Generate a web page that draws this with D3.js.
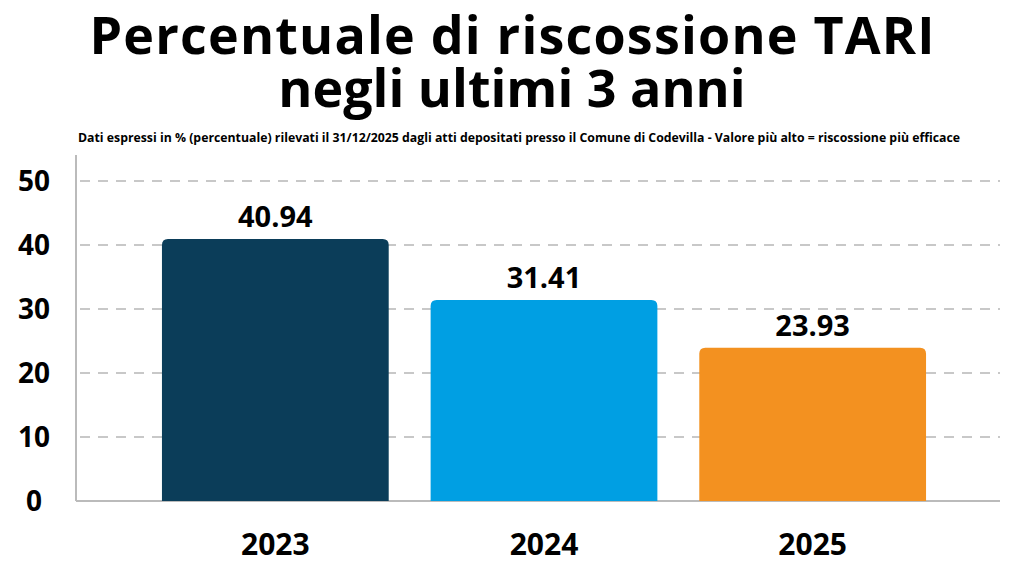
<!DOCTYPE html><html><head><meta charset="utf-8">
<script src="https://cdn.jsdelivr.net/npm/d3@7/dist/d3.min.js"></script>
<style>body{margin:0;background:#fff}</style></head><body>
<script>
const categories=["2023","2024","2025"];
const values=[40.94,31.41,23.93];
const colors=["#0b3d59","#009fe3","#f39120"];
const yTicks=[0,10,20,30,40,50];
const W=1024,H=576,F="'Open Sans',sans-serif";
const svg=d3.select("body").append("svg").attr("width",W).attr("height",H);
const x=d3.scaleBand().domain(categories).range([141,947]).paddingInner(0.156).paddingOuter(0.078);
const y=d3.scaleLinear().domain([0,50]).range([501,181]);
svg.append("text").attr("x",512).attr("y",54).attr("text-anchor","middle").attr("font-family",F).attr("font-weight",700).attr("font-size",52).attr("textLength",845).attr("lengthAdjust","spacing").text("Percentuale di riscossione TARI");
svg.append("text").attr("x",512).attr("y",107).attr("text-anchor","middle").attr("font-family",F).attr("font-weight",700).attr("font-size",52).text("negli ultimi 3 anni");
svg.append("text").attr("x",519).attr("y",142).attr("text-anchor","middle").attr("font-family",F).attr("font-weight",700).attr("font-size",11.5).attr("textLength",882).attr("lengthAdjust","spacingAndGlyphs").text("Dati espressi in % (percentuale) rilevati il 31/12/2025 dagli atti depositati presso il Comune di Codevilla - Valore più alto = riscossione più efficace");
yTicks.filter(t=>t>0).forEach(t=>svg.append("line").attr("x1",80).attr("x2",1000).attr("y1",y(t)).attr("y2",y(t)).attr("stroke","#c8c8c8").attr("stroke-width",2).attr("stroke-dasharray","10,8"));
svg.append("line").attr("x1",76).attr("x2",76).attr("y1",155).attr("y2",501).attr("stroke","#bbb").attr("stroke-width",2);
svg.append("line").attr("x1",76).attr("x2",1000).attr("y1",501).attr("y2",501).attr("stroke","#bbb").attr("stroke-width",2);
yTicks.forEach(t=>svg.append("text").attr("x",34).attr("y",y(t)+10).attr("text-anchor","middle").attr("font-family",F).attr("font-weight",700).attr("font-size",28).text(t));
const r=6;
categories.forEach((c,i)=>{
 const x0=x(c),w=x.bandwidth(),yt=y(values[i]),yb=y(0);
 svg.append("path").attr("fill",colors[i]).attr("d",`M${x0},${yb}V${yt+r}Q${x0},${yt} ${x0+r},${yt}H${x0+w-r}Q${x0+w},${yt} ${x0+w},${yt+r}V${yb}Z`);
 svg.append("text").attr("x",x0+w/2).attr("y",yt-12).attr("text-anchor","middle").attr("font-family",F).attr("font-weight",700).attr("font-size",29).text(values[i].toFixed(2));
 svg.append("text").attr("x",x0+w/2).attr("y",555).attr("text-anchor","middle").attr("font-family",F).attr("font-weight",700).attr("font-size",30).text(c);
});
</script></body></html>
